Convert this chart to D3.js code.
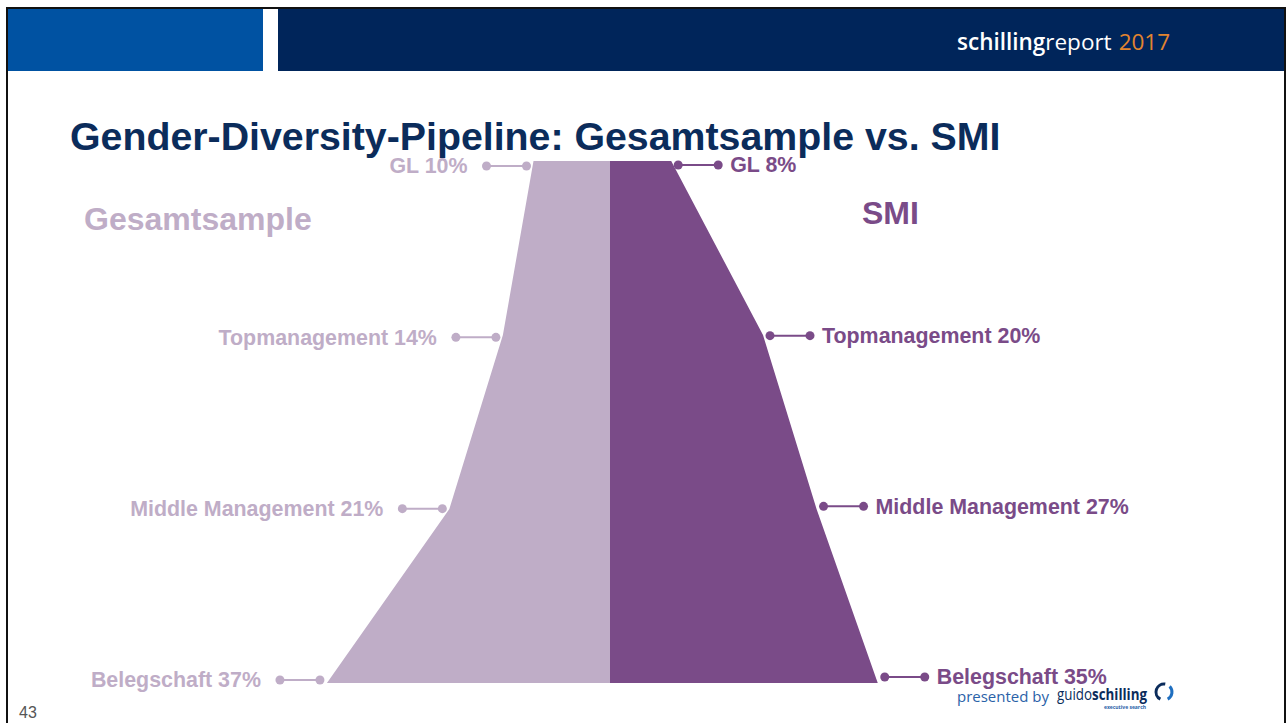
<!DOCTYPE html>
<html>
<head>
<meta charset="utf-8">
<script src="https://cdn.jsdelivr.net/npm/d3@7"></script>
<style>
  body { margin: 0; background: #fff; }
  svg { display: block; font-family: "Liberation Sans", Arial, sans-serif; }
</style>
</head>
<body>
<svg id="chart" width="1287" height="723"></svg>
<script>
// data
var levels = ["GL", "Topmanagement", "Middle Management", "Belegschaft"];
var gesamtValues = [10, 14, 21, 37];
var smiValues = [8, 20, 27, 35];
var seriesNames = ["Gesamtsample", "SMI"];

var lightPurple = "#bfadc7",
    darkPurple = "#7a4b88",
    navy = "#0b2c5b";

var svg = d3.select("svg#chart");

// header band
svg.append("rect").attr("x", 8).attr("y", 9).attr("width", 255).attr("height", 62).attr("fill", "#0052a2");
svg.append("rect").attr("x", 278).attr("y", 9).attr("width", 1006).attr("height", 62).attr("fill", "#00255a");
svg.append("clipPath").attr("id", "hdr").append("rect")
  .attr("x", 278).attr("y", 9).attr("width", 1006).attr("height", 62);
svg.append("path")
  .attr("clip-path", "url(#hdr)")
  .attr("d", d3.arc()({ innerRadius: 46, outerRadius: 58, startAngle: -Math.PI * 0.55, endAngle: Math.PI * 0.1 }))
  .attr("transform", "translate(1076,86)")
  .attr("fill", "#22426f");
var brand = svg.append("text")
  .attr("x", 957).attr("y", 50)
  .style("font-family", "'Open Sans', 'Noto Sans', sans-serif")
  .style("font-size", "22.5px")
  .attr("fill", "#fff");
brand.append("tspan").style("font-weight", "600").text("schilling");
brand.append("tspan").text("report");
brand.append("tspan").attr("fill", "#e2842f").attr("dx", 7).text("2017");

// slide frame
svg.append("line").attr("x1", 6).attr("x2", 1286).attr("y1", 8).attr("y2", 8).attr("stroke", "#111").attr("stroke-width", 2);
svg.append("line").attr("x1", 7).attr("x2", 7).attr("y1", 7).attr("y2", 723).attr("stroke", "#111").attr("stroke-width", 2);
svg.append("line").attr("x1", 1285).attr("x2", 1285).attr("y1", 7).attr("y2", 723).attr("stroke", "#111").attr("stroke-width", 2);

// title
svg.append("text")
  .attr("x", 70).attr("y", 150)
  .style("font-size", "39.3px").style("font-weight", "bold")
  .attr("fill", navy)
  .text("Gender-Diversity-Pipeline: Gesamtsample vs. SMI");

// scales
var cx = 610;
var x = d3.scaleLinear().domain([0, 40]).range([0, 306]);
var y = d3.scalePoint().domain(levels).range([161, 683]);
var yDotLeft = d3.scalePoint().domain(levels).range([166, 680]);
var yDotRight = d3.scalePoint().domain(levels).range([165, 677]);

var left = levels.map(function (l, i) { return { level: l, value: gesamtValues[i] }; });
var right = levels.map(function (l, i) { return { level: l, value: smiValues[i] }; });

var areaLeft = d3.area()
  .y(function (d) { return y(d.level); })
  .x0(function (d) { return cx - x(d.value); })
  .x1(cx);
var areaRight = d3.area()
  .y(function (d) { return y(d.level); })
  .x0(cx)
  .x1(function (d) { return cx + x(d.value); });

svg.append("path").datum(left).attr("d", areaLeft).attr("fill", lightPurple);
svg.append("path").datum(right).attr("d", areaRight).attr("fill", darkPurple);

// connectors + labels
function drawSide(data, side, color, gap, yDot) {
  var g = svg.append("g");
  var s = side === "left" ? -1 : 1;
  var items = g.selectAll("g.lab").data(data).enter().append("g").attr("class", "lab");
  var inner = function (d) { return cx + s * (x(d.value) + 7); };
  var outer = function (d) { return cx + s * (x(d.value) + 47); };
  items.append("line")
    .attr("x1", inner).attr("x2", outer)
    .attr("y1", function (d) { return yDot(d.level); })
    .attr("y2", function (d) { return yDot(d.level); })
    .attr("stroke", color).attr("stroke-width", 2);
  items.append("circle").attr("cx", inner).attr("cy", function (d) { return yDot(d.level); })
    .attr("r", 4.5).attr("fill", color);
  items.append("circle").attr("cx", outer).attr("cy", function (d) { return yDot(d.level); })
    .attr("r", 4.5).attr("fill", color);
  items.append("text")
    .attr("x", function (d) { return outer(d) + s * gap; })
    .attr("y", function (d) { return yDot(d.level); })
    .attr("dy", "0.34em")
    .attr("text-anchor", side === "left" ? "end" : "start")
    .style("font-size", "21.4px").style("font-weight", "bold")
    .attr("fill", color)
    .text(function (d) { return d.level + " " + d.value + "%"; });
}
drawSide(left, "left", lightPurple, 19, yDotLeft);
drawSide(right, "right", darkPurple, 12, yDotRight);

// series headings
svg.append("text").attr("x", 84).attr("y", 230)
  .style("font-size", "32px").style("font-weight", "bold")
  .attr("fill", lightPurple).text(seriesNames[0]);
svg.append("text").attr("x", 862).attr("y", 224)
  .style("font-size", "32px").style("font-weight", "bold")
  .attr("fill", darkPurple).text(seriesNames[1]);

// footer
svg.append("text").attr("x", 19).attr("y", 718)
  .style("font-size", "16px").attr("fill", "#555").text("43");
var logo = svg.append("g").style("font-family", "'Open Sans', 'Noto Sans', sans-serif");
logo.append("text").attr("x", 957).attr("y", 702)
  .attr("textLength", 92).attr("lengthAdjust", "spacingAndGlyphs")
  .style("font-size", "14.5px").attr("fill", "#2a62a8").text("presented by");
var gs = logo.append("text").attr("x", 1057).attr("y", 700)
  .attr("textLength", 90).attr("lengthAdjust", "spacingAndGlyphs")
  .style("font-size", "15.5px").attr("fill", "#0b2c5b");
gs.append("tspan").text("guido");
gs.append("tspan").style("font-weight", "bold").text("schilling");
logo.append("text").attr("x", 1146).attr("y", 709).attr("text-anchor", "end")
  .style("font-size", "5px").style("font-weight", "bold").attr("fill", "#2a62a8").text("executive search");
logo.append("path")
  .attr("transform", "translate(1164,692)")
  .attr("d", d3.arc()({ innerRadius: 6.5, outerRadius: 9.5, startAngle: Math.PI * 1.15, endAngle: Math.PI * 2.05 }))
  .attr("fill", "#0b2c5b");
logo.append("path")
  .attr("transform", "translate(1164,692)")
  .attr("d", d3.arc()({ innerRadius: 6.5, outerRadius: 9.5, startAngle: Math.PI * 0.25, endAngle: Math.PI * 0.85 }))
  .attr("fill", "#1f6fc0");
</script>
</body>
</html>
